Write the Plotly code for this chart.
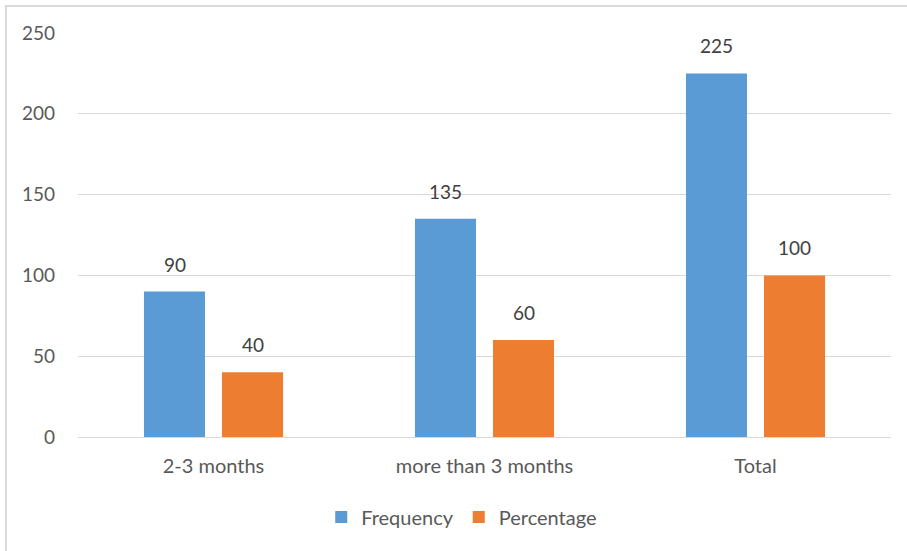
import plotly.graph_objects as go

categories = ["2-3 months", "more than 3 months", "Total"]
frequency = [90, 135, 225]
percentage = [40, 60, 100]
y_ticks = [0, 50, 100, 150, 200, 250]

FONT = "Lato, 'Open Sans', sans-serif"
BLUE = "#5B9BD5"
ORANGE = "#ED7D31"
TEXT = "#595959"
LABEL = "#404040"

fig = go.Figure()
fig.add_trace(go.Bar(
    x=categories, y=frequency, name="Frequency",
    marker=dict(color=BLUE, line=dict(width=0)),
))
fig.add_trace(go.Bar(
    x=categories, y=percentage, name="Percentage",
    marker=dict(color=ORANGE, line=dict(width=0)),
))

# value labels sit a little above each bar, over the centre of its slot
annotations = []
for values, shift in ((frequency, -39), (percentage, 39)):
    for cat, v in zip(categories, values):
        annotations.append(dict(
            x=cat, y=v, xref="x", yref="y", text=str(v), showarrow=False,
            xshift=shift, yshift=14, yanchor="bottom",
            font=dict(family=FONT, size=19, color=LABEL),
        ))

fig.update_layout(
    width=907, height=551,
    margin=dict(l=78, r=16, t=33, b=114),
    paper_bgcolor="white", plot_bgcolor="white",
    barmode="group", bargap=0.424, bargroupgap=0.218,
    font=dict(family=FONT, size=19, color=TEXT),
    showlegend=True,
    legend=dict(
        orientation="h", x=0.472, xanchor="center", y=-0.198, yanchor="middle",
        font=dict(family=FONT, size=20, color=TEXT),
        itemwidth=30, traceorder="normal",
    ),
    annotations=annotations,
    shapes=[dict(
        type="rect", xref="paper", yref="paper",
        x0=-72 / 813, x1=1.2, y0=-0.5, y1=(437 - 6) / 404,
        line=dict(color="#d9d9d9", width=2), layer="below",
    )],
)
fig.update_xaxes(
    showline=False, showgrid=False, ticks="", zeroline=False,
    ticklabelstandoff=15,
    tickfont=dict(family=FONT, size=20, color=TEXT),
)
fig.update_yaxes(
    range=[0, 250], tickvals=y_ticks, showgrid=True, gridcolor="#d9d9d9",
    gridwidth=1, zeroline=True, zerolinecolor="#d9d9d9", zerolinewidth=1,
    showline=False, ticks="", ticklabelstandoff=22,
    tickfont=dict(family=FONT, size=19, color=TEXT),
)

fig.write_html("out.html")
